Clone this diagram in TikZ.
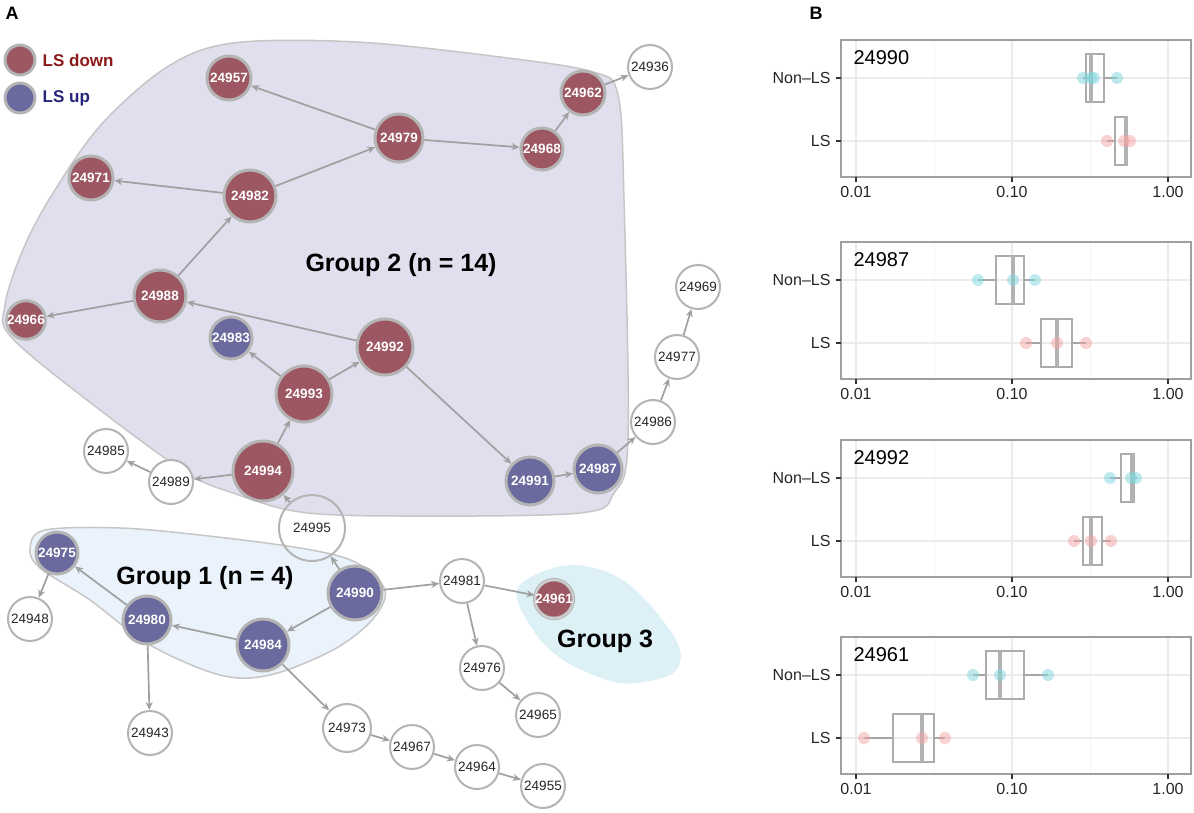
\documentclass[tikz,border=0pt]{standalone}
\usepackage{fontspec}
\setmainfont{Liberation Sans}
\usetikzlibrary{arrows.meta,positioning}

\definecolor{lsdown}{HTML}{9C5762}
\definecolor{lsup}{HTML}{6A6A9E}
\definecolor{ringgray}{HTML}{B4B4B4}
\definecolor{edgegray}{HTML}{A0A0A0}
\definecolor{grptwo}{HTML}{E0DFED}
\definecolor{grpone}{HTML}{EAF3FB}
\definecolor{grpthree}{HTML}{DCF0F5}
\definecolor{blobline}{HTML}{C6C6C6}
\definecolor{legdown}{HTML}{8B1A1A}
\definecolor{legup}{HTML}{25257A}
\definecolor{ptcyan}{HTML}{7ED6DC}
\definecolor{ptpink}{HTML}{F4A3A3}
\definecolor{gridmaj}{HTML}{EBEBEB}
\definecolor{gridmin}{HTML}{F5F5F5}

% one row of a box plot: y, whisker low, q1, median, q3, whisker high, colour, points
\newcommand{\lsbox}[8]{%
  \draw[whisk] (#2,#1) -- (#3,#1);
  \draw[whisk] (#5,#1) -- (#6,#1);
  \draw[boxline] (#3,#1-24) rectangle (#5,#1+24);
  \draw[medline] (#4,#1-24) -- (#4,#1+24);
  \foreach \px in {#8} \fill[#7, opacity=0.5] (\px,#1) circle[radius=6pt];
}

\begin{document}
\begin{tikzpicture}[x=1pt, y=-1pt,
    downnode/.style={circle, draw=ringgray, line width=3pt, fill=lsdown, text=white, inner sep=0pt, font=\fontsize{13.5}{14}\selectfont\bfseries},
    upnode/.style={downnode, fill=lsup},
    plainnode/.style={circle, draw=ringgray, line width=2pt, fill=white, text=black!85, inner sep=0pt, minimum size=44pt, font=\fontsize{13.5}{14}\selectfont},
    link/.style={draw=edgegray, line width=1.7pt, -{Stealth[length=8pt, width=7pt]}},
    grouplabel/.style={font=\fontsize{25}{28}\selectfont\bfseries},
    whisk/.style={draw=gray!70, line width=1.3pt},
    boxline/.style={draw=gray!65, line width=1.4pt},
    medline/.style={draw=gray!60, line width=3.5pt},
    frame/.style={draw=gray!75, line width=1.2pt}
]
\useasboundingbox (0,0) rectangle (1194,813);

% Panel labels
\node[font=\fontsize{18}{20}\selectfont\bfseries] (labA) at (12,13) {A};
\node[font=\fontsize{18}{20}\selectfont\bfseries] (labB) at (816,13) {B};

% Group hulls
\draw[fill=grptwo, draw=blobline, line width=1.5pt] plot[smooth cycle, tension=0.55] coordinates {
  (5,305) (22,252) (50,198) (100,126) (167,67) (233,43) (357,42) (500,57) (593,72)
  (618,95) (624,200) (628,440) (614,493) (580,513) (400,516) (300,512) (233,493)
  (187,473) (100,410) (12,338)};
\draw[fill=grpone, draw=blobline, line width=1.5pt] plot[smooth cycle, tension=0.55] coordinates {
  (30,548) (45,530) (120,528) (200,535) (300,548) (355,562) (385,590) (372,620)
  (333,650) (270,675) (220,675) (150,645) (90,600) (40,568)};
\fill[grpthree] plot[smooth cycle, tension=0.6] coordinates {
  (517,590) (553,568) (590,567) (627,583) (660,617) (680,650) (673,673) (637,683)
  (607,680) (563,660) (533,630)};

\node[grouplabel] (g2label) at (401,265) {Group 2 (n = 14)};
\node[grouplabel] (g1label) at (205,578) {Group 1 (n = 4)};
\node[grouplabel] (g3label) at (605,641) {Group 3};

% Legend
\node[downnode, minimum size=30pt] (legdn) at (20,60) {};
\node[upnode, minimum size=30pt] (legupn) at (20,98) {};
\node[right=6pt of legdn, inner sep=0pt, text=legdown, font=\fontsize{17}{18}\selectfont\bfseries] (legdntext) {LS down};
\node[right=6pt of legupn, inner sep=0pt, text=legup, font=\fontsize{17}{18}\selectfont\bfseries] (leguptext) {LS up};

% LS down
\node[downnode, minimum size=44pt] (n24957) at (229,78) {24957};
\node[downnode, minimum size=44pt] (n24962) at (583,93) {24962};
\node[downnode, minimum size=48pt] (n24979) at (399,138) {24979};
\node[downnode, minimum size=42pt] (n24968) at (542,149) {24968};
\node[downnode, minimum size=44pt] (n24971) at (91,178) {24971};
\node[downnode, minimum size=52pt] (n24982) at (250,196) {24982};
\node[downnode, minimum size=52pt] (n24988) at (160,296) {24988};
\node[downnode, minimum size=38pt] (n24966) at (26,320) {24966};
\node[downnode, minimum size=56pt] (n24992) at (385,347) {24992};
\node[downnode, minimum size=56pt] (n24993) at (304,394) {24993};
\node[downnode, minimum size=60pt] (n24994) at (263,471) {24994};
\node[downnode, minimum size=38pt, line width=1pt, double=gray!35, double distance=1.5pt] (n24961) at (554,599) {24961};

% LS up
\node[upnode, minimum size=42pt] (n24983) at (231,338) {24983};
\node[upnode, minimum size=48pt] (n24991) at (530,481) {24991};
\node[upnode, minimum size=48pt] (n24987) at (598,469) {24987};
\node[upnode, minimum size=42pt] (n24975) at (57,553) {24975};
\node[upnode, minimum size=48pt] (n24980) at (147,620) {24980};
\node[upnode, minimum size=54pt] (n24990) at (355,593) {24990};
\node[upnode, minimum size=52pt] (n24984) at (263,645) {24984};

% Not in a group
\node[plainnode] (n24936) at (650,67) {24936};
\node[plainnode] (n24969) at (698,287) {24969};
\node[plainnode] (n24977) at (677,357) {24977};
\node[plainnode] (n24986) at (653,422) {24986};
\node[plainnode] (n24985) at (106,451) {24985};
\node[plainnode] (n24989) at (171,482) {24989};
\node[plainnode, minimum size=66pt, fill=none] (n24995) at (312,528) {24995};
\node[plainnode] (n24948) at (30,619) {24948};
\node[plainnode] (n24981) at (462,581) {24981};
\node[plainnode] (n24976) at (482,668) {24976};
\node[plainnode] (n24965) at (538,715) {24965};
\node[plainnode] (n24943) at (150,733) {24943};
\node[plainnode, minimum size=48pt] (n24973) at (347,728) {24973};
\node[plainnode] (n24967) at (412,747) {24967};
\node[plainnode] (n24964) at (477,767) {24964};
\node[plainnode] (n24955) at (543,786) {24955};

% Edges
\foreach \a/\b in {24994/24993, 24994/24989, 24989/24985, 24993/24983, 24993/24992,
    24992/24988, 24992/24991, 24988/24966, 24988/24982, 24982/24971, 24982/24979,
    24979/24957, 24979/24968, 24968/24962, 24962/24936, 24991/24987, 24987/24986,
    24986/24977, 24977/24969, 24995/24994, 24990/24995, 24990/24981, 24990/24984,
    24984/24980, 24980/24975, 24975/24948, 24980/24943, 24984/24973, 24973/24967,
    24967/24964, 24964/24955, 24981/24961, 24981/24976, 24976/24965}
  \draw[link] (n\a) -- (n\b);

% Box plot panels
\foreach \ptop/\pname in {40/24990, 242/24987, 440/24992, 637/24961} {
  \foreach \gx in {934,1090} \draw[gridmin, line width=1pt] (\gx,\ptop) -- (\gx,\ptop+137);
  \foreach \gx in {856,1012,1168} \draw[gridmaj, line width=1.2pt] (\gx,\ptop) -- (\gx,\ptop+137);
  \foreach \gy in {38,101} \draw[gridmaj, line width=1.2pt] (841,\ptop+\gy) -- (1191,\ptop+\gy);
  \draw[frame] (841,\ptop) rectangle (1191,\ptop+137);
  \node[anchor=west, font=\fontsize{20}{22}\selectfont] at (850,\ptop+18) {\pname};
  \draw[black!80, line width=1.2pt] (836,\ptop+38) -- (841,\ptop+38);
  \draw[black!80, line width=1.2pt] (836,\ptop+101) -- (841,\ptop+101);
  \node[anchor=east, font=\fontsize{16}{18}\selectfont, text=black!85] at (834,\ptop+38) {Non–LS};
  \node[anchor=east, font=\fontsize{16}{18}\selectfont, text=black!85] at (834,\ptop+101) {LS};
  \foreach \gx/\gl in {856/0.01, 1012/0.10, 1168/1.00} {
    \draw[black!80, line width=1.2pt] (\gx,\ptop+137) -- (\gx,\ptop+142);
    \node[anchor=north, font=\fontsize{16}{18}\selectfont, text=black!85] at (\gx,\ptop+143) {\gl};
  }
}

% 24990
\lsbox{78}{1083}{1086}{1091}{1104}{1117}{ptcyan}{1083,1091,1094,1117}
\lsbox{141}{1107}{1115}{1126}{1127}{1128}{ptpink}{1107,1124,1130}
% 24987
\lsbox{280}{978}{996}{1013}{1024}{1035}{ptcyan}{978,1013,1035}
\lsbox{343}{1026}{1041}{1057}{1072}{1086}{ptpink}{1026,1057,1086}
% 24992
\lsbox{478}{1110}{1121}{1132}{1134}{1137}{ptcyan}{1110,1131,1136}
\lsbox{541}{1074}{1083}{1091}{1102}{1111}{ptpink}{1074,1091,1111}
% 24961
\lsbox{675}{973}{986}{1000}{1024}{1048}{ptcyan}{973,1000,1048}
\lsbox{738}{864}{893}{922}{934}{945}{ptpink}{864,922,945}

\end{tikzpicture}
\end{document}
